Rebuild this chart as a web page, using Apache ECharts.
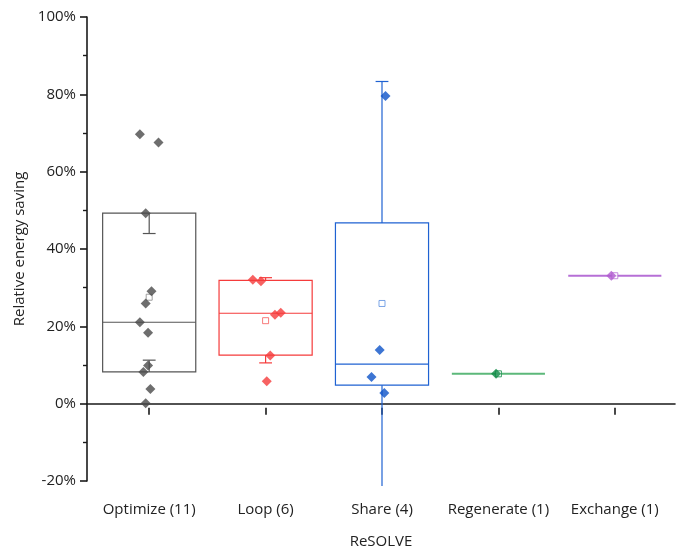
<!DOCTYPE html>
<html><head><meta charset="utf-8">
<script src="https://cdn.jsdelivr.net/npm/echarts@6/dist/echarts.min.js"></script>
<style>html,body{margin:0;padding:0;background:#fff}#c{width:680px;height:554px}</style>
</head><body><div id="c"></div>
<script>
const categories = ['Optimize (11)', 'Loop (6)', 'Share (4)', 'Regenerate (1)', 'Exchange (1)'];
const yTickMin = -20, yTickMax = 100, yTickStep = 20;

const optimizeValues = [70.0, 67.9, 49.8, 29.8, 26.7, 21.9, 19.2, 10.8, 9.2, 4.8, 1.2];
const optimizeJitter = [-0.08, 0.08, -0.03, 0.02, -0.03, -0.08, -0.01, -0.01, -0.05, 0.01, -0.03];
const loopValues = [32.8, 32.4, 23.8, 24.3, 13.4, 6.8];
const loopJitter = [-0.11, -0.04, 0.08, 0.13, 0.04, 0.01];
const shareValues = [79.8, 14.8, 7.9, 3.8];
const shareJitter = [0.03, -0.02, -0.09, 0.02];
const regenerateValues = [8.7];
const regenerateJitter = [-0.02];
const exchangeValues = [33.8];
const exchangeJitter = [-0.03];

const boxQ1 = [9.2, 13.5, 5.8, 8.7, 33.8];
const boxMedian = [21.9, 24.2, 11.2, 8.7, 33.8];
const boxQ3 = [49.8, 32.6, 47.3, 8.7, 33.8];
const whiskerLow = [12.2, 11.5, -25, null, null];
const whiskerHigh = [44.6, 33.3, 83.5, null, null];
const meanValues = [28.3, 22.3, 26.7, 8.7, 33.8];

const pointColors = ['#4a4a4a', '#f53b3b', '#0d52c8', '#0e8a45', '#b05ad0'];
const boxColors = ['#555555', '#f53b3b', '#1f62d2', '#5cb87a', '#b66fd6'];
const meanColors = ['#8a8a8a', '#f55a5a', '#5a8ee0', '#0e8a45', '#b66fd6'];

const groupValues = [optimizeValues, loopValues, shareValues, regenerateValues, exchangeValues];
const groupJitter = [optimizeJitter, loopJitter, shareJitter, regenerateJitter, exchangeJitter];

const FONT = '"Open Sans", "Noto Sans", sans-serif';
const BOX_HALF = 0.4, CAP_HALF = 0.055;

function renderBox(params, api) {
  const i = params.dataIndex;
  const color = boxColors[i];
  const style = { fill: 'none', stroke: color, lineWidth: 1.2 };
  const tl = api.coord([i - BOX_HALF, boxQ3[i]]);
  const br = api.coord([i + BOX_HALF, boxQ1[i]]);
  const children = [];
  if (boxQ1[i] === boxQ3[i]) {
    children.push({ type: 'line', shape: { x1: tl[0], y1: tl[1], x2: br[0], y2: tl[1] }, style: { stroke: color, lineWidth: 2 } });
  } else {
    children.push({ type: 'rect', shape: { x: tl[0], y: tl[1], width: br[0] - tl[0], height: br[1] - tl[1] }, style: style });
    const m1 = api.coord([i - BOX_HALF, boxMedian[i]]);
    const m2 = api.coord([i + BOX_HALF, boxMedian[i]]);
    children.push({ type: 'line', shape: { x1: m1[0], y1: m1[1], x2: m2[0], y2: m2[1] }, style: style });
  }
  [[whiskerHigh[i], boxQ3[i]], [whiskerLow[i], boxQ1[i]]].forEach(function (w) {
    if (w[0] === null) return;
    const a = api.coord([i, w[0]]);
    const b = api.coord([i, w[1]]);
    children.push({ type: 'line', shape: { x1: a[0], y1: a[1], x2: b[0], y2: b[1] }, style: style });
    const c1 = api.coord([i - CAP_HALF, w[0]]);
    const c2 = api.coord([i + CAP_HALF, w[0]]);
    children.push({ type: 'line', shape: { x1: c1[0], y1: c1[1], x2: c2[0], y2: c2[1] }, style: style });
  });
  return { type: 'group', children: children };
}

const series = [{
  type: 'custom',
  xAxisIndex: 2, yAxisIndex: 1,
  clip: true,
  renderItem: renderBox,
  data: categories.map(function (c, i) { return [i, boxQ1[i], boxQ3[i]]; }),
  z: 2
}];

series.push({
  type: 'scatter',
  xAxisIndex: 2, yAxisIndex: 1,
  symbol: 'rect', symbolSize: 6,
  data: meanValues.map(function (v, i) {
    return { value: [i, v], itemStyle: { color: '#ffffff', borderColor: meanColors[i], borderWidth: 1 } };
  }),
  z: 3
});

groupValues.forEach(function (vals, i) {
  series.push({
    type: 'scatter',
    xAxisIndex: 2, yAxisIndex: 1,
    symbol: 'diamond', symbolSize: 10,
    itemStyle: { color: pointColors[i] },
    data: vals.map(function (v, k) { return [i + groupJitter[i][k], v]; }),
    z: 4
  });
});

const chart = echarts.init(document.getElementById('c'), null, { renderer: 'canvas' });
chart.setOption({
  animation: false,
  backgroundColor: '#ffffff',
  grid: [
    { left: 87, right: 5, top: 17, bottom: 68 },
    { left: 91, right: 7, top: 17, bottom: 68 }
  ],
  xAxis: [
    {
      gridIndex: 0, type: 'value', min: 0, max: 1,
      axisLine: { show: true, lineStyle: { color: '#1a1a1a', width: 1.6 } },
      axisTick: { show: false }, axisLabel: { show: false }, splitLine: { show: false },
      name: 'ReSOLVE', nameLocation: 'middle', nameGap: 53,
      nameTextStyle: { fontFamily: FONT, fontSize: 15, color: '#222' }
    },
    {
      gridIndex: 1, type: 'category', data: categories,
      axisLine: { show: false },
      axisTick: { show: true, alignWithLabel: true, interval: 0, length: 7, lineStyle: { color: '#1a1a1a', width: 1.6 } },
      axisLabel: { interval: 0, margin: 16, fontFamily: FONT, fontSize: 15, color: '#222' },
      splitLine: { show: false }
    },
    {
      gridIndex: 1, type: 'value', min: -0.5, max: 4.5, show: false
    }
  ],
  yAxis: [
    {
      gridIndex: 0, type: 'value', min: yTickMin, max: yTickMax, interval: yTickStep,
      axisLine: { show: true, lineStyle: { color: '#1a1a1a', width: 1.6 } },
      axisTick: { show: true, length: 7, lineStyle: { color: '#1a1a1a', width: 1.6 } },
      minorTick: { show: true, splitNumber: 2, length: 4, lineStyle: { color: '#1a1a1a', width: 1.4 } },
      axisLabel: { margin: 11, padding: [0, 0, 4, 0], fontFamily: FONT, fontSize: 15, color: '#222', formatter: '{value}%' },
      splitLine: { show: false },
      name: 'Relative energy saving', nameLocation: 'middle', nameRotate: 90, nameGap: 53,
      nameTextStyle: { fontFamily: FONT, fontSize: 15, color: '#222' }
    },
    {
      gridIndex: 1, type: 'value', min: yTickMin, max: yTickMax, interval: yTickStep, show: false
    }
  ],
  series: series
});
</script></body></html>
